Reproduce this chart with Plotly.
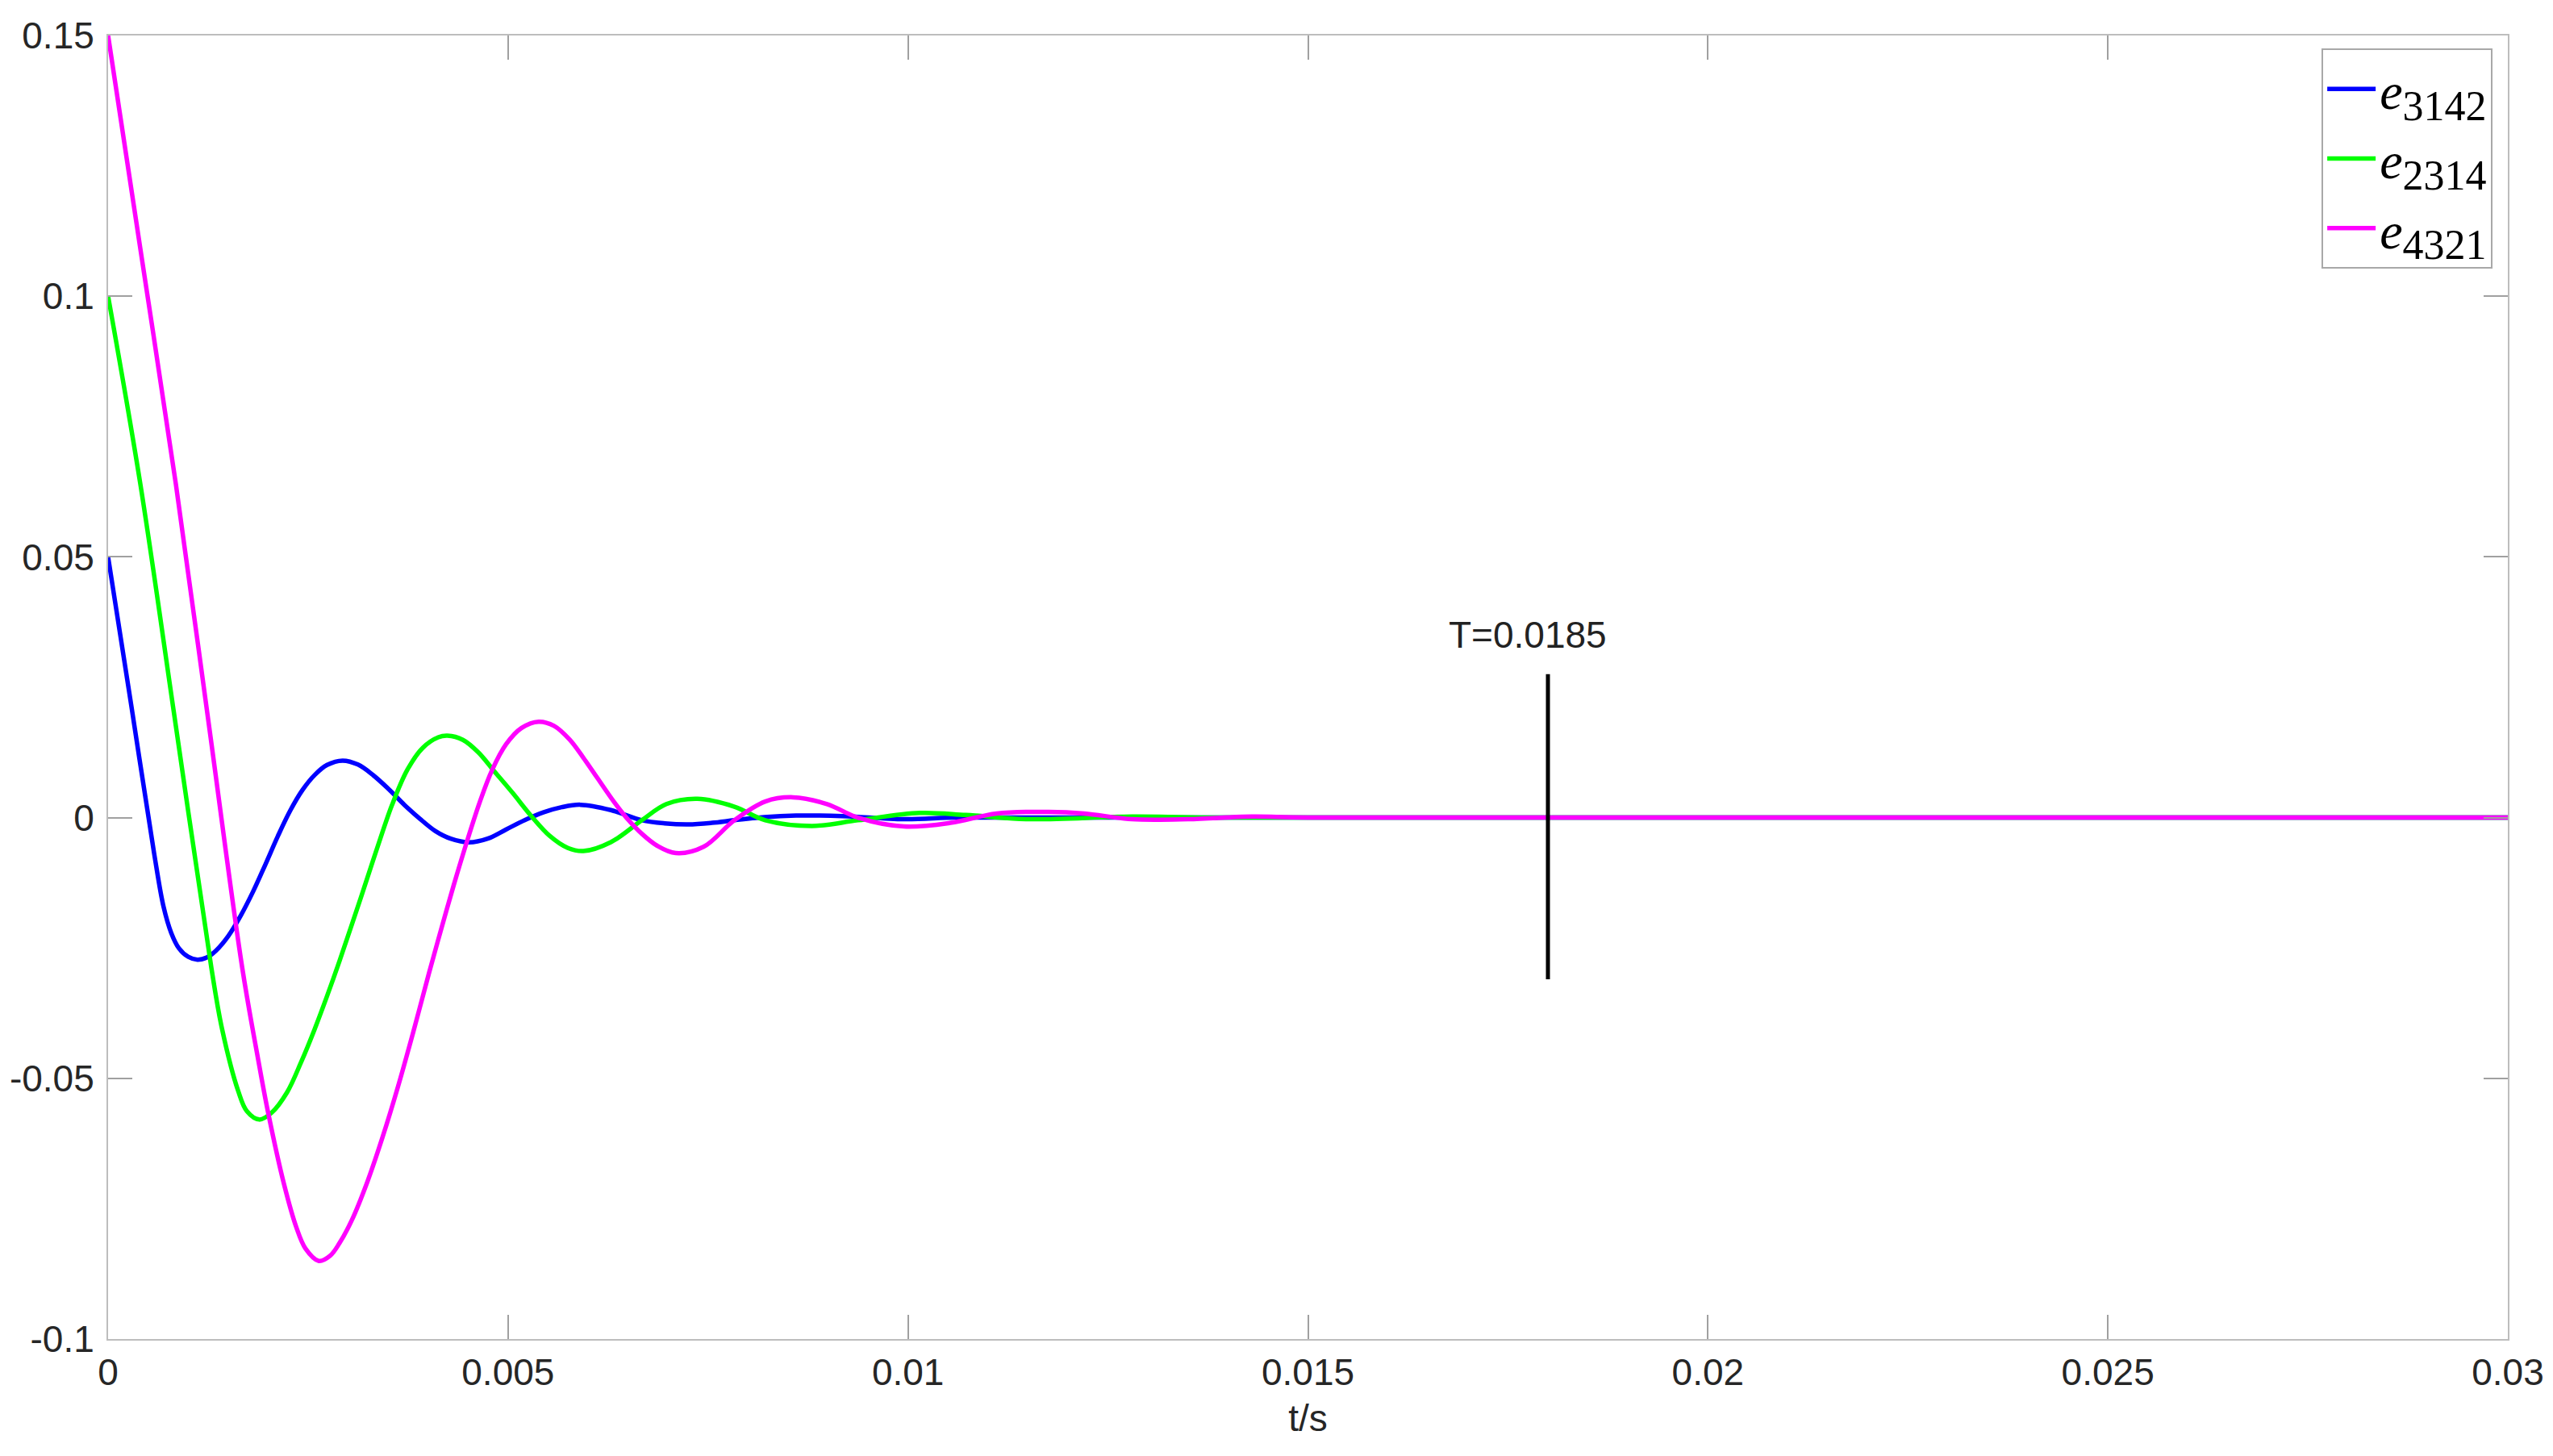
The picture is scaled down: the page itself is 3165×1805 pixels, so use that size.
import plotly.graph_objects as go

# error signals (t in s)
blue_t = [0, 0.00029, 0.000577, 0.000693, 0.000789, 0.000886, 0.001002, 0.001117, 0.001233,
          0.001349, 0.001503, 0.001658, 0.001812, 0.001966, 0.002121, 0.002275, 0.00243,
          0.002584, 0.002738, 0.002931, 0.003124, 0.003317, 0.00351, 0.003703, 0.003896,
          0.004089, 0.004282, 0.004513, 0.004745, 0.004977, 0.005208, 0.00544, 0.005671,
          0.005903, 0.006286, 0.006673, 0.00696, 0.007252, 0.00755, 0.00783, 0.0082,
          0.0086, 0.00918, 0.00995, 0.0106, 0.0115, 0.03]
blue_y = [0.05, 0.0215, -0.0070, -0.01707, -0.02209, -0.02506, -0.0267, -0.02725, -0.02683,
          -0.0255, -0.0227, -0.0188, -0.0142, -0.0090, -0.0036, 0.0013, 0.0053,
          0.0082, 0.0101, 0.01094, 0.01017, 0.0081, 0.00543, 0.00247, -0.00019,
          -0.00256, -0.00404, -0.00475, -0.00404, -0.00226, -0.00049, 0.00099, 0.002,
          0.00247, 0.00145, -0.0005, -0.0011, -0.0013, -0.001, -0.0005, 0.0001,
          0.0004, 0.0003, -0.0003, 0.0, 0.0, 0.0]

green_t = [0, 0.000403, 0.000847, 0.001291, 0.001426, 0.001627, 0.001735, 0.001889, 0.002044,
           0.002237, 0.00241, 0.002584, 0.002738, 0.002893, 0.003163, 0.003356, 0.003549,
           0.003742, 0.003935, 0.004128, 0.004243, 0.004436, 0.004629, 0.004822, 0.005054,
           0.005285, 0.005517, 0.005748, 0.005941, 0.006286, 0.006673, 0.00698, 0.007367,
           0.00783, 0.008216, 0.0088, 0.009374, 0.010145, 0.010724, 0.0115, 0.0128, 0.0138,
           0.03]
green_y = [0.1, 0.064, 0.0176, -0.0288, -0.04062, -0.05246, -0.05631, -0.0579, -0.0566,
           -0.0527, -0.0470, -0.0405, -0.0342, -0.0275, -0.0152, -0.0062, 0.0024,
           0.0092, 0.0134, 0.0154, 0.0157, 0.0149, 0.0125, 0.0090, 0.0048,
           0.0004, -0.00345, -0.00582, -0.00641, -0.0047, -0.0005, 0.0026, 0.0036,
           0.0021, -0.0005, -0.0016, -0.0005, 0.0009, 0.0005, -0.0003, 0.0002, 0.0,
           0.0]

mag_t = [0, 0.000424, 0.000847, 0.001262, 0.001677, 0.001878, 0.002005, 0.002198, 0.002352,
         0.002468, 0.002634, 0.002777, 0.002893, 0.003047, 0.00324, 0.003433, 0.003626,
         0.003819, 0.004012, 0.004166, 0.00432, 0.004494, 0.004649, 0.004803, 0.004977,
         0.00517, 0.005382, 0.005575, 0.005768, 0.005941, 0.006325, 0.006479, 0.006673,
         0.006865, 0.007097, 0.007444, 0.00783, 0.008216, 0.008563, 0.008988, 0.009374,
         0.00995, 0.010532, 0.01111, 0.011758, 0.0122, 0.0128, 0.0135, 0.0143, 0.015, 0.03]
mag_y = [0.15, 0.107, 0.064, 0.0176, -0.0288, -0.04654, -0.0569, -0.07022, -0.07851,
         -0.08265, -0.08502, -0.0840, -0.0816, -0.0772, -0.0699, -0.0612, -0.0515,
         -0.0409, -0.0298, -0.0213, -0.0130, -0.0042, 0.0031, 0.0092, 0.0141,
         0.0172, 0.0184, 0.0176, 0.0150, 0.0115, 0.0030, 0.0, -0.0031,
         -0.0054, -0.0068, -0.0056, -0.0005, 0.0031, 0.0039, 0.0026, 0.0,
         -0.0017, -0.001, 0.0008, 0.0011, 0.0008, -0.0003, -0.0003, 0.0002, 0.0, 0.0]

# settling marker
marker_t = [0.018, 0.018]
marker_y = [-0.031, 0.0275]
marker_text = "T=0.0185"

x_ticks = [0, 0.005, 0.01, 0.015, 0.02, 0.025, 0.03]
x_ticktext = ["0", "0.005", "0.01", "0.015", "0.02", "0.025", "0.03"]
y_ticks = [-0.1, -0.05, 0, 0.05, 0.1, 0.15]
y_ticktext = ["-0.1", "-0.05", "0", "0.05", "0.1", "0.15"]

SANS = "Liberation Sans, Arial, sans-serif"
SERIF = "Liberation Serif, DejaVu Serif, serif"


def label(sub):
    return f"<i>e</i><sub><span style='font-size:52px'>{sub}</span></sub>"


series = [
    (blue_t, blue_y, "3142", "#0000ff"),
    (green_t, green_y, "2314", "#00ff00"),
    (mag_t, mag_y, "4321", "#ff00ff"),
]

fig = go.Figure()
for t, y, sub, color in series:
    fig.add_trace(go.Scatter(
        x=t, y=y, mode="lines", name=label(sub),
        line=dict(color=color, width=5.5, shape="spline", smoothing=1.0),
    ))

fig.add_trace(go.Scatter(
    x=marker_t, y=marker_y, mode="lines", showlegend=False,
    line=dict(color="black", width=5),
))

fig.add_annotation(
    x=0.01775, y=0.035, text=marker_text, showarrow=False,
    font=dict(family=SANS, size=46, color="#222222"),
    xanchor="center", yanchor="middle",
)

axis_common = dict(
    showline=True, linecolor="#bdbdbd", linewidth=2, mirror="ticks",
    ticks="inside", ticklen=30, tickwidth=2, tickcolor="#a0a0a0",
    showgrid=False, zeroline=False, automargin=False,
    tickfont=dict(family=SANS, size=46, color="#262626"),
)

fig.update_xaxes(
    range=[0, 0.03], tickvals=x_ticks, ticktext=x_ticktext,
    title=dict(text="t/s", font=dict(family=SANS, size=46, color="#262626"), standoff=16),
    ticklabelstandoff=0,
    **axis_common,
)
fig.update_yaxes(
    range=[-0.1, 0.15], tickvals=y_ticks, ticktext=y_ticktext,
    ticklabelstandoff=6,
    **axis_common,
)

# the page body adds an 8px offset, so margins are trimmed to match
fig.update_layout(
    width=3165, height=1805,
    margin=dict(l=126, r=64, t=36, b=153),
    paper_bgcolor="white", plot_bgcolor="white",
    legend=dict(
        x=0.9224, y=0.99, xanchor="left", yanchor="top",
        bgcolor="white", bordercolor="#a8a8a8", borderwidth=2,
        font=dict(family=SERIF, size=64, color="black"),
        tracegroupgap=0, itemwidth=60,
    ),
)

fig.write_html("out.html")
